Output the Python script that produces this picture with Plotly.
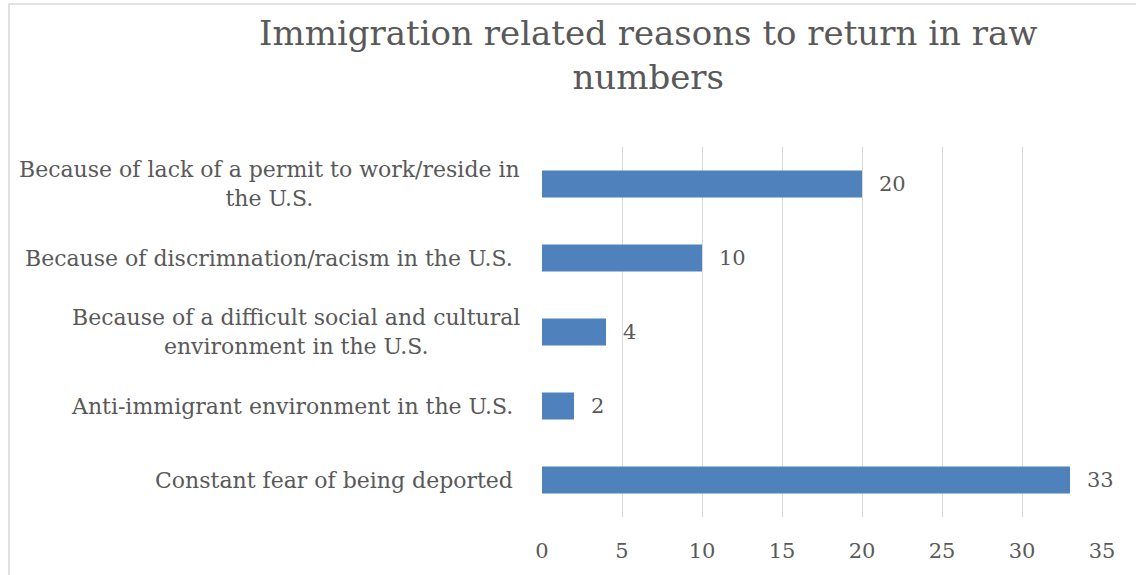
import plotly.graph_objects as go

categories = [
    "Constant fear of being deported",
    "Anti-immigrant environment in the U.S.",
    "Because of a difficult social and cultural<br>environment in the U.S.",
    "Because of discrimnation/racism in the U.S.",
    "Because of lack of a permit to work/reside in<br>the U.S.",
]
values = [33, 2, 4, 10, 20]
x_ticks = [0, 5, 10, 15, 20, 25, 30, 35]
title_text = "Immigration related reasons to return in raw<br>numbers"

FONT = "DejaVu Serif"
GRAY = "#595959"
BAR = "#4f81bd"

W, H = 1136, 575
L, R, T, B = 542, 34, 147, 58
pw = W - L - R
ph = H - T - B

fig = go.Figure()
fig.add_trace(go.Bar(
    x=values, y=categories, orientation="h",
    marker=dict(color=BAR, line=dict(width=0)),
    width=0.365, hoverinfo="skip",
))

def px_x(p):
    return (p - L) / pw

def px_y(p):
    return (H - B - p) / ph

annotations = [dict(
    x=px_x(648), y=px_y(55), xref="paper", yref="paper", text=title_text,
    showarrow=False, xanchor="center", yanchor="middle", align="center",
    font=dict(family=FONT, size=34, color=GRAY),
)]
for c, v in zip(categories, values):
    annotations.append(dict(
        x=v, y=c, xref="x", yref="y", text=str(v), showarrow=False,
        xanchor="left", xshift=15, font=dict(family=FONT, size=21, color=GRAY),
    ))
    annotations.append(dict(
        x=0, y=c, xref="paper", yref="y", text=c, showarrow=False,
        xanchor="right", xshift=(-20 if "<br>" in c else -27), align="center",
        font=dict(family=FONT, size=22, color=GRAY),
    ))

shapes = [dict(
    type="rect", xref="paper", yref="paper",
    x0=px_x(9), x1=px_x(1150), y0=px_y(590), y1=px_y(4),
    line=dict(color="#d9d9d9", width=1.5), fillcolor="rgba(0,0,0,0)", layer="below",
)]

fig.update_layout(
    width=W, height=H,
    margin=dict(l=L, r=R, t=T, b=B),
    paper_bgcolor="white", plot_bgcolor="white",
    showlegend=False,
    xaxis=dict(range=[0, 35], tickvals=x_ticks, showgrid=True, gridcolor="#d9d9d9",
               gridwidth=1.3, zeroline=False, showline=False, ticks="",
               tickfont=dict(family=FONT, size=21, color=GRAY), ticklabelstandoff=19,
               fixedrange=True),
    yaxis=dict(categoryorder="array", categoryarray=categories, showticklabels=False,
               showgrid=False, zeroline=False, showline=False, range=[-0.5, 4.5], fixedrange=True),
    annotations=annotations,
    shapes=shapes,
)

fig.write_html("out.html", config={"displayModeBar": False},
               post_script="document.body.style.margin='0';document.body.style.overflow='hidden';")
